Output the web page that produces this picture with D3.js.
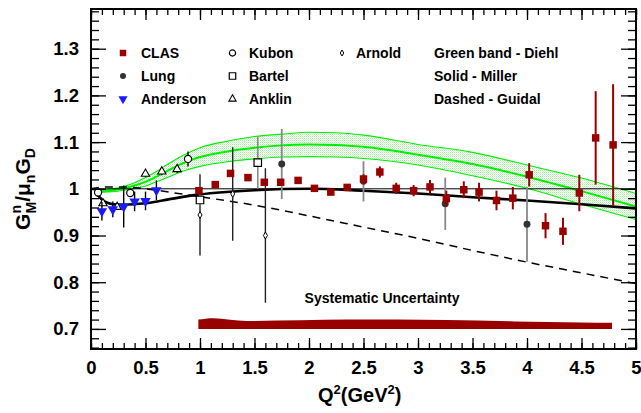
<!DOCTYPE html>
<html lang="en">
<head>
<meta charset="UTF-8">
<title>GMn / mu_n GD vs Q2</title>
<script src="https://d3js.org/d3.v7.min.js"></script>
<style>
  body { margin: 0; background: #fff; }
  svg { display: block; font-family: "Liberation Sans", Arial, Helvetica, sans-serif; font-weight: bold; }
</style>
</head>
<body>
<div id="chart"></div>
<script>
// values
const clasQ2  = [0.99, 1.14, 1.28, 1.44, 1.59, 1.74, 1.90, 2.05, 2.20, 2.35, 2.50, 2.65, 2.80, 2.96, 3.11, 3.26, 3.42, 3.56, 3.72, 3.87, 4.02, 4.17, 4.33, 4.48, 4.63, 4.79];
const clasVal = [0.996, 1.009, 1.033, 1.024, 1.014, 1.014, 1.018, 1.001, 0.993, 1.003, 1.021, 1.036, 1.001, 0.996, 1.004, 0.979, 0.998, 0.993, 0.975, 0.980, 1.030, 0.921, 0.909, 0.991, 1.109, 1.094];
const clasErr = [0.005, 0.005, 0.005, 0.005, 0.005, 0.006, 0.006, 0.006, 0.006, 0.007, 0.010, 0.012, 0.012, 0.012, 0.015, 0.017, 0.018, 0.020, 0.021, 0.024, 0.025, 0.027, 0.029, 0.039, 0.100, 0.130];

const lungQ2  = [1.75, 2.50, 3.25, 4.00];
const lungVal = [1.053, 1.016, 0.968, 0.924];
const lungErr = [0.075, 0.043, 0.056, 0.080];

const arnoldQ2  = [1.00, 1.30, 1.60];
const arnoldVal = [0.944, 0.989, 0.900];
const arnoldErr = [0.087, 0.100, 0.144];

const bartelQ2  = [1.00, 1.53];
const bartelVal = [0.976, 1.056];
const bartelErr = [0.012, 0.056];

const kubonQ2  = [0.065, 0.36, 0.89];
const kubonVal = [0.992, 0.991, 1.064];
const kubonErr = [0.004, 0.006, 0.016];

const anklinQ2  = [0.11, 0.24, 0.50, 0.65, 0.79];
const anklinVal = [0.969, 0.961, 1.032, 1.037, 1.042];
const anklinErr = [0.006, 0.006, 0.007, 0.008, 0.008];

const andersonQ2  = [0.10, 0.20, 0.30, 0.40, 0.50, 0.60];
const andersonVal = [0.952, 0.956, 0.962, 0.973, 0.974, 0.997];
const andersonErr = [0.020, 0.017, 0.045, 0.021, 0.020, 0.021];

// Diehl band (green)
const diehlQ2  = [0, 0.1, 0.2, 0.3, 0.4, 0.5, 0.6, 0.7, 0.8, 0.9, 1.0, 1.25, 1.5, 1.75, 2.0, 2.25, 2.5, 3.0, 3.5, 4.0, 4.5, 5.0];
const diehlMid = [1.000, 0.995, 0.997, 1.001, 1.007, 1.015, 1.026, 1.038, 1.050, 1.060, 1.068, 1.080, 1.088, 1.093, 1.095, 1.094, 1.090, 1.073, 1.053, 1.026, 0.995, 0.962];
const diehlHi  = [1.001, 0.997, 1.000, 1.005, 1.013, 1.024, 1.037, 1.052, 1.066, 1.078, 1.088, 1.102, 1.112, 1.117, 1.121, 1.120, 1.115, 1.095, 1.078, 1.051, 1.023, 0.990];
const diehlLo  = [0.999, 0.993, 0.994, 0.997, 1.001, 1.006, 1.015, 1.024, 1.034, 1.042, 1.048, 1.058, 1.064, 1.068, 1.069, 1.068, 1.065, 1.051, 1.028, 1.001, 0.967, 0.934];

// Miller (solid)
const millerQ2  = [0.06, 0.10, 0.15, 0.20, 0.30, 0.50, 0.75, 1.0, 1.5, 2.0, 2.5, 3.0, 3.5, 4.0, 4.5, 5.0];
const millerVal = [0.987, 0.977, 0.970, 0.967, 0.966, 0.969, 0.979, 0.988, 0.997, 1.000, 0.996, 0.990, 0.982, 0.975, 0.967, 0.958];

// Guidal (dashed)
const guidalQ2  = [0, 0.15, 0.3, 0.5, 0.8, 1.0, 1.5, 2.0, 2.5, 3.0, 3.5, 4.0, 4.5, 5.0];
const guidalVal = [1.000, 1.004, 1.004, 1.000, 0.990, 0.983, 0.965, 0.942, 0.918, 0.894, 0.868, 0.843, 0.820, 0.797];

// systematic uncertainty band
const sysQ2  = [0.985, 1.12, 1.43, 2.35, 3.26, 3.88, 4.49, 4.78];
const sysTop = [0.720, 0.723, 0.717, 0.720, 0.719, 0.716, 0.714, 0.713];
const sysBase = 0.7;

const xMajor = [0, 0.5, 1, 1.5, 2, 2.5, 3, 3.5, 4, 4.5, 5];
const yMajor = [0.7, 0.8, 0.9, 1.0, 1.1, 1.2, 1.3];

const W = 641, H = 413;
const pLeft = 91, pRight = 636, pTop = 9, pBottom = 349;

const x = d3.scaleLinear().domain([0, 5]).range([pLeft, pRight]);
const y = d3.scaleLinear().domain([0.657, 1.385]).range([pBottom, pTop]);

const svg = d3.select('#chart').append('svg')
    .attr('width', W)
    .attr('height', H);

const defs = svg.append('defs');
defs.append('clipPath').attr('id', 'plot')
  .append('rect')
    .attr('x', pLeft).attr('y', pTop)
    .attr('width', pRight - pLeft).attr('height', pBottom - pTop);

// light dotted fill like the original hatch style
const pat = defs.append('pattern')
    .attr('id', 'dots')
    .attr('width', 2).attr('height', 2)
    .attr('patternUnits', 'userSpaceOnUse');
pat.append('rect').attr('width', 2).attr('height', 2).attr('fill', '#ffffff');
pat.append('rect').attr('width', 1).attr('height', 1).attr('fill', '#a6eea2');
pat.append('rect').attr('x', 1).attr('y', 1).attr('width', 1).attr('height', 1).attr('fill', '#d2f7cf');

const zip = (a, b) => a.map((v, i) => [v, b[i]]);

const plot = svg.append('g').attr('clip-path', 'url(#plot)');

// green band
const band = diehlQ2.map((q, i) => ({ q, lo: diehlLo[i], hi: diehlHi[i] }));
plot.append('path')
    .datum(band)
    .attr('fill', 'url(#dots)')
    .attr('d', d3.area().curve(d3.curveMonotoneX)
        .x(d => x(d.q)).y0(d => y(d.lo)).y1(d => y(d.hi)));

const line = d3.line().curve(d3.curveMonotoneX).x(d => x(d[0])).y(d => y(d[1]));

[[diehlHi, 1.1], [diehlLo, 1.1], [diehlMid, 2]].forEach(([vals, w]) => {
  plot.append('path')
      .datum(zip(diehlQ2, vals))
      .attr('fill', 'none')
      .attr('stroke', '#00ee00')
      .attr('stroke-width', w)
      .attr('d', line);
});

// y = 1 reference line
plot.append('line')
    .attr('x1', x(0)).attr('x2', x(5))
    .attr('y1', y(1)).attr('y2', y(1))
    .attr('stroke', '#000').attr('stroke-width', 1);

plot.append('path')
    .datum(zip(guidalQ2, guidalVal))
    .attr('fill', 'none')
    .attr('stroke', '#000')
    .attr('stroke-width', 1.5)
    .attr('stroke-dasharray', '8,6')
    .attr('d', line);

plot.append('path')
    .datum(zip(millerQ2, millerVal))
    .attr('fill', 'none')
    .attr('stroke', '#000')
    .attr('stroke-width', 2.6)
    .attr('d', line);

// systematic band
const sysData = sysQ2.map((q, i) => ({ q, t: sysTop[i] }));
plot.append('path')
    .datum(sysData)
    .attr('fill', '#990000')
    .attr('d', d3.area().curve(d3.curveMonotoneX)
        .x(d => x(d.q)).y0(y(sysBase)).y1(d => y(d.t)));

svg.append('text')
    .attr('x', x(2.67)).attr('y', 303)
    .attr('text-anchor', 'middle')
    .attr('font-size', 14)
    .text('Systematic Uncertainty');

// data sets
function series(q2, val, err, opts) {
  const g = plot.append('g');
  const pts = q2.map((q, i) => ({ q, v: val[i], e: err[i] }));
  g.selectAll('line').data(pts).enter().append('line')
      .attr('x1', d => x(d.q)).attr('x2', d => x(d.q))
      .attr('y1', d => y(d.v - d.e)).attr('y2', d => y(d.v + d.e))
      .attr('stroke', opts.bar)
      .attr('stroke-width', opts.barW);
  g.selectAll('path').data(pts).enter().append('path')
      .attr('transform', d => `translate(${x(d.q)},${y(d.v)})` + (opts.rot ? ' rotate(180)' : ''))
      .attr('d', d3.symbol().type(opts.type).size(opts.size))
      .attr('fill', opts.fill)
      .attr('stroke', opts.stroke || 'none')
      .attr('stroke-width', opts.sw || 0);
}

const styles = {
  lung:     { type: d3.symbolCircle,   size: 38, fill: '#333333', bar: '#888888', barW: 1.8 },
  arnold:   { type: d3.symbolDiamond,  size: 14, fill: '#fff', stroke: '#000', sw: 1, bar: '#222', barW: 1.4 },
  bartel:   { type: d3.symbolSquare,   size: 56, fill: '#fff', stroke: '#000', sw: 1.2, bar: '#888888', barW: 1.6 },
  kubon:    { type: d3.symbolCircle,   size: 40, fill: '#fff', stroke: '#000', sw: 1.2, bar: '#000', barW: 1.4 },
  anklin:   { type: d3.symbolTriangle, size: 30, fill: '#fff', stroke: '#000', sw: 1.1, bar: '#000', barW: 1.3 },
  anderson: { type: d3.symbolTriangle, size: 48, fill: '#1a1aff', rot: true, bar: '#000', barW: 1.4 },
  clas:     { type: d3.symbolSquare,   size: 56, fill: '#990000', bar: '#990000', barW: 2 }
};

series(arnoldQ2, arnoldVal, arnoldErr, styles.arnold);
series(lungQ2, lungVal, lungErr, styles.lung);
series(bartelQ2, bartelVal, bartelErr, styles.bartel);
series(kubonQ2, kubonVal, kubonErr, styles.kubon);
series(anklinQ2, anklinVal, anklinErr, styles.anklin);
series(andersonQ2, andersonVal, andersonErr, styles.anderson);
series(clasQ2, clasVal, clasErr, styles.clas);

// axes (ticks inside, mirrored on top/right)
const xMinor = d3.range(0, 5.001, 0.1);
const yMinor = d3.range(0.66, 1.381, 0.02);
const axes = svg.append('g');

function drawAxis(gen, tx, ty, vals, size, fmt) {
  const a = axes.append('g')
      .attr('transform', `translate(${tx},${ty})`)
      .call(gen.tickValues(vals).tickSizeInner(size).tickSizeOuter(0).tickPadding(12).tickFormat(fmt));
  a.select('.domain').remove();
  a.selectAll('line').attr('stroke', '#000').attr('stroke-width', 1.3);
  a.selectAll('text').attr('font-size', 18.5).attr('font-family', '"Liberation Sans", Arial, sans-serif').attr('font-weight', 'bold').attr('fill', '#000');
  return a;
}
const blank = () => '';
drawAxis(d3.axisBottom(x), 0, pBottom, xMinor, -6, blank);
drawAxis(d3.axisBottom(x), 0, pBottom, xMajor, -11, d => d3.format('~g')(d));
drawAxis(d3.axisTop(x), 0, pTop, xMinor, -6, blank);
drawAxis(d3.axisTop(x), 0, pTop, xMajor, -11, blank);
drawAxis(d3.axisLeft(y), pLeft, 0, yMinor, -8, blank);
drawAxis(d3.axisLeft(y), pLeft, 0, yMajor, -15, d => d3.format('~g')(d));
drawAxis(d3.axisRight(y), pRight, 0, yMinor, -8, blank);
drawAxis(d3.axisRight(y), pRight, 0, yMajor, -15, blank);

svg.append('rect')
    .attr('x', pLeft).attr('y', pTop)
    .attr('width', pRight - pLeft).attr('height', pBottom - pTop)
    .attr('fill', 'none').attr('stroke', '#000').attr('stroke-width', 2);

// axis titles
const xt = svg.append('text').attr('x', 318).attr('y', 402).attr('font-size', 20);
xt.append('tspan').text('Q');
xt.append('tspan').attr('font-size', 13).attr('dy', -8).text('2');
xt.append('tspan').attr('dy', 8).text('(GeV');
xt.append('tspan').attr('font-size', 13).attr('dy', -8).text('2');
xt.append('tspan').attr('dy', 8).text(')');

const yt = svg.append('text')
    .attr('transform', 'translate(30,189) rotate(-90)')
    .attr('text-anchor', 'middle')
    .attr('font-size', 21);
yt.append('tspan').text('G');
yt.append('tspan').attr('font-size', 14).attr('dy', -9).text('n');
yt.append('tspan').attr('font-size', 14).attr('dx', -8.5).attr('dy', 15).text('M');
yt.append('tspan').attr('dy', -6).text('/μ');
yt.append('tspan').attr('font-size', 14).attr('dy', 5).text('n');
yt.append('tspan').attr('dy', -5).text('G');
yt.append('tspan').attr('font-size', 14).attr('dy', 5).text('D');

// legend
const legendRows = [
  { col: 0, row: 0, key: 'clas',     label: 'CLAS' },
  { col: 0, row: 1, key: 'lung',     label: 'Lung' },
  { col: 0, row: 2, key: 'anderson', label: 'Anderson' },
  { col: 1, row: 0, key: 'kubon',    label: 'Kubon' },
  { col: 1, row: 1, key: 'bartel',   label: 'Bartel' },
  { col: 1, row: 2, key: 'anklin',   label: 'Anklin' },
  { col: 2, row: 0, key: 'arnold',   label: 'Arnold' }
];
const colMarkX = [123, 232.5, 342];
const colTextX = [141, 249, 356];
const rowY = [53, 76, 99];

const leg = svg.append('g');
legendRows.forEach(r => {
  const s = styles[r.key];
  leg.append('path')
      .attr('transform', `translate(${colMarkX[r.col]},${rowY[r.row]})` + (s.rot ? ' rotate(180)' : ''))
      .attr('d', d3.symbol().type(s.type).size(s.size * 0.75))
      .attr('fill', s.fill)
      .attr('stroke', s.stroke || 'none')
      .attr('stroke-width', s.sw || 0);
  leg.append('text')
      .attr('x', colTextX[r.col]).attr('y', rowY[r.row] + 5)
      .attr('font-size', 14)
      .text(r.label);
});
['Green band - Diehl', 'Solid - Miller', 'Dashed - Guidal'].forEach((t, i) => {
  leg.append('text')
      .attr('x', 434).attr('y', rowY[i] + 5)
      .attr('font-size', 14)
      .text(t);
});
</script>
</body>
</html>
